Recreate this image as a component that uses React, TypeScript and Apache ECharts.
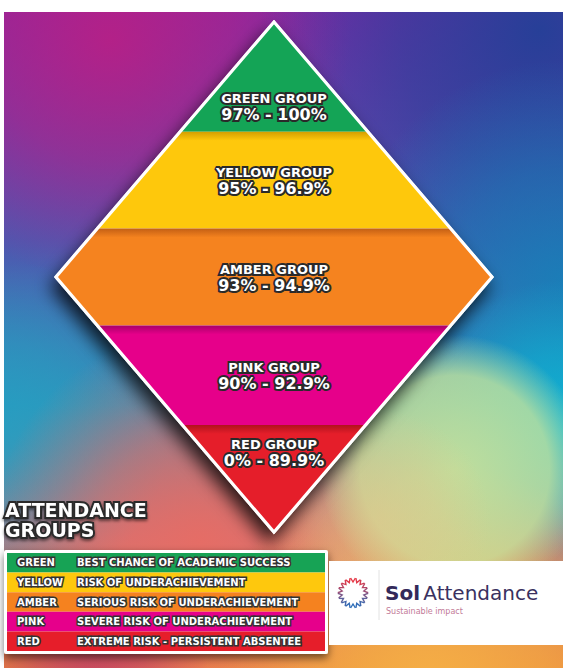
import React, { useEffect, useRef } from 'react';
import * as echarts from 'echarts';

// Pyramid bands (top to bottom); extents on a 0 (bottom tip) .. 10 (top tip) scale
const groupNames = ['GREEN GROUP', 'YELLOW GROUP', 'AMBER GROUP', 'PINK GROUP', 'RED GROUP'];
const groupRanges = ['97% - 100%', '95% - 96.9%', '93% - 94.9%', '90% - 92.9%', '0% - 89.9%'];
const bandFrom = [7.85, 5.95, 4.05, 2.1, 0];
const bandTo = [10, 7.85, 5.95, 4.05, 2.1];
const bandColors = ['#14a456', '#fec80c', '#f5831f', '#e6008a', '#e51e2a'];
const bandShades = ['#0f8a46', '#d49e00', '#c45f14', '#a8006a', '#b0121d'];

// Legend table
const legendNames = ['GREEN', 'YELLOW', 'AMBER', 'PINK', 'RED'];
const legendDescriptions = [
  'BEST CHANCE OF ACADEMIC SUCCESS',
  'RISK OF UNDERACHIEVEMENT',
  'SERIOUS RISK OF UNDERACHIEVEMENT',
  'SEVERE RISK OF UNDERACHIEVEMENT',
  'EXTREME RISK - PERSISTENT ABSENTEE',
];
const legendColors = ['#17a355', '#fec80d', '#f5821f', '#e6008b', '#e61e2a'];

const FONT = 'DejaVu Sans';

function half(y: number) {
  return 1 - Math.abs(y - 5) / 5;
}

function radial(x: number, y: number, r: number, rgb: string, a: number, flat = 0.5) {
  return {
    type: 'radial', x, y, r, global: true,
    colorStops: [
      { offset: 0, color: `rgba(${rgb},${a})` },
      { offset: flat, color: `rgba(${rgb},${a * (flat > 0.5 ? 0.85 : 0.6)})` },
      { offset: 1, color: `rgba(${rgb},0)` },
    ],
  };
}

function mix(c1: number[], c2: number[], t: number) {
  const c = c1.map((v, i) => Math.round(v + (c2[i] - v) * t));
  return `rgb(${c[0]},${c[1]},${c[2]})`;
}

export default function App() {
  const ref = useRef<HTMLDivElement>(null);
  useEffect(() => {
    const chart = echarts.init(ref.current!, null, { renderer: 'svg', width: 563, height: 668 });

    const bgShape = { x: 4, y: 12, width: 559, height: 656 };
    const overlays = [
      radial(110, 40, 240, '190,30,130', 0.85),
      radial(540, 30, 280, '30,65,150', 0.9),
      radial(563, 280, 220, '20,130,185', 0.85),
      radial(563, 430, 150, '10,185,215', 0.9),
      radial(0, 430, 170, '35,160,195', 0.85),
      radial(200, 540, 210, '232,108,100', 0.9),
      radial(430, 690, 230, '246,178,70', 0.95),
      radial(455, 470, 135, '200,228,155', 0.92, 0.7),
      radial(380, 520, 110, '225,200,140', 0.6),
      radial(90, 690, 120, '180,40,110', 0.7),
    ];
    const bgElements: any[] = [
      {
        type: 'rect', z: 0, shape: bgShape, silent: true,
        style: {
          fill: new echarts.graphic.LinearGradient(0, 0, 0, 1, [
            { offset: 0, color: '#7a2ca8' },
            { offset: 0.35, color: '#4d58b0' },
            { offset: 0.6, color: '#3590b8' },
            { offset: 0.8, color: '#c97479' },
            { offset: 1, color: '#e9863e' },
          ]),
        },
      },
      ...overlays.map((g) => ({ type: 'rect', z: 0, silent: true, shape: bgShape, style: { fill: g } })),
    ];

    // legend frame
    const frame = {
      type: 'rect', z: 1, silent: true,
      shape: { x: 4, y: 550, width: 324, height: 104, r: 2 },
      style: { fill: '#ffffff', shadowBlur: 8, shadowOffsetY: 4, shadowColor: 'rgba(0,0,0,0.55)' },
    };

    // logo panel
    const panel = {
      type: 'rect', z: 1, silent: true,
      shape: { x: 329, y: 561, width: 234, height: 84 },
      style: { fill: '#ffffff' },
    };
    const cx = 353, cy = 593, rr = 13, n = 18;
    const chevrons: any[] = [];
    for (let i = 0; i < n; i++) {
      const th = (i * 2 * Math.PI) / n;
      const t = (1 - Math.cos(th)) / 2;
      chevrons.push({
        type: 'polyline', z: 2, silent: true,
        x: cx + rr * Math.sin(th), y: cy - rr * Math.cos(th), rotation: -th,
        shape: { points: [[-2.4, -2], [0, 2], [2.4, -2]] },
        style: { stroke: mix([232, 56, 70], [45, 110, 185], t), lineWidth: 1.4, fill: null },
      });
    }
    const logo: any[] = [
      panel,
      ...chevrons,
      { type: 'line', z: 2, silent: true, shape: { x1: 379, y1: 570, x2: 379, y2: 620 }, style: { stroke: '#e2e2e2', lineWidth: 1 } },
      {
        type: 'text', z: 2, silent: true, x: 385, y: 593,
        style: {
          text: '{a|Sol} {b|Attendance}', verticalAlign: 'middle', align: 'left',
          rich: {
            a: { fontFamily: FONT, fontSize: 20, fontWeight: 'bold', fill: '#33295a' },
            b: { fontFamily: FONT, fontSize: 20, fontWeight: 'normal', fill: '#3a3160' },
          },
        },
      },
      {
        type: 'text', z: 2, silent: true, x: 386, y: 611,
        style: { text: 'Sustainable impact', fontFamily: FONT, fontSize: 8, fill: '#c27a98', verticalAlign: 'middle' },
      },
    ];

    const labelStyle = (text: string, size: number) => ({
      text, fontFamily: FONT, fontSize: size, fontWeight: 'bold', fill: '#ffffff',
      stroke: '#2a2a2a', lineWidth: 4, align: 'center', verticalAlign: 'middle',
      shadowBlur: 2, shadowOffsetY: 1.5, shadowColor: 'rgba(0,0,0,0.6)',
    });

    const option: any = {
      animation: false,
      title: {
        text: 'ATTENDANCE\nGROUPS', left: 5, top: 500, padding: 0,
        textStyle: {
          color: '#ffffff', fontFamily: FONT, fontSize: 19, fontWeight: 'bold', lineHeight: 20,
          textBorderColor: '#2b2b2b', textBorderWidth: 4,
          textShadowColor: 'rgba(0,0,0,0.5)', textShadowBlur: 3, textShadowOffsetY: 2,
        },
      },
      grid: [
        { left: 56, top: 22, width: 436, height: 510 },
        { left: 7, top: 553, width: 318, height: 98 },
      ],
      xAxis: [
        { type: 'value', gridIndex: 0, min: -1, max: 1, show: false },
        { type: 'value', gridIndex: 1, min: 0, max: 1, show: false },
      ],
      yAxis: [
        { type: 'value', gridIndex: 0, min: 0, max: 10, show: false },
        { type: 'category', gridIndex: 1, data: legendNames, inverse: true, show: false },
      ],
      graphic: { elements: [...bgElements, frame, ...logo] },
      series: [
        {
          // diamond outline + shadow (under bands)
          type: 'custom', xAxisIndex: 0, yAxisIndex: 0, z: 2, silent: true,
          data: [[0, 10]],
          renderItem: (_p: any, api: any) => {
            const lo = api.value(0), hi = api.value(1);
            const mid = (lo + hi) / 2;
            const pts = [[0, lo], [-1, mid], [0, hi], [1, mid]].map((p) => api.coord(p));
            return {
              type: 'polygon', shape: { points: pts },
              style: { fill: '#ffffff', stroke: '#ffffff', lineWidth: 3, shadowBlur: 18, shadowOffsetY: 10, shadowOffsetX: -4, shadowColor: 'rgba(0,0,0,0.8)' },
            };
          },
        },
        {
          type: 'custom', xAxisIndex: 0, yAxisIndex: 0, z: 3, silent: true,
          data: bandFrom.map((f, i) => [f, bandTo[i]]),
          renderItem: (params: any, api: any) => {
            const i = params.dataIndex;
            const lo = api.value(0), hi = api.value(1);
            const crosses = lo < 5 && hi > 5;
            const pts: number[][] = [[-half(lo), lo]];
            if (crosses) pts.push([-1, 5]);
            pts.push([-half(hi), hi], [half(hi), hi]);
            if (crosses) pts.push([1, 5]);
            pts.push([half(lo), lo]);
            const points = pts.map((p) => api.coord(p));
            const topPx = api.coord([0, hi])[1];
            const botPx = api.coord([0, lo])[1];
            const h = botPx - topPx;
            const stop = i === 0 ? 0.001 : Math.min(0.4, 9 / h);
            let ly = (lo + hi) / 2;
            if (hi >= 10) ly = lo + 0.23 * (hi - lo);
            else if (lo <= 0) ly = hi - 0.25 * (hi - lo);
            const lp = api.coord([0, ly]);
            return {
              type: 'group',
              children: [
                {
                  type: 'polygon', shape: { points },
                  style: {
                    fill: new echarts.graphic.LinearGradient(0, 0, 0, 1, [
                      { offset: 0, color: i === 0 ? bandColors[i] : bandShades[i] },
                      { offset: stop, color: bandColors[i] },
                      { offset: 1, color: bandColors[i] },
                    ]),
                  },
                },
                { type: 'text', x: lp[0], y: lp[1] - 7.5, style: labelStyle(groupNames[i], 13) },
                { type: 'text', x: lp[0], y: lp[1] + 8.5, style: labelStyle(groupRanges[i], 16) },
              ],
            };
          },
        },
        {
          // white border on top of bands
          type: 'custom', xAxisIndex: 0, yAxisIndex: 0, z: 4, silent: true,
          data: [[0, 10]],
          renderItem: (_p: any, api: any) => {
            const lo = api.value(0), hi = api.value(1);
            const mid = (lo + hi) / 2;
            const pts = [[0, lo], [-1, mid], [0, hi], [1, mid]].map((p) => api.coord(p));
            return { type: 'polygon', shape: { points: pts }, style: { fill: null, stroke: '#ffffff', lineWidth: 3, lineJoin: 'miter' } };
          },
        },
        {
          type: 'custom', xAxisIndex: 1, yAxisIndex: 1, z: 3, silent: true,
          data: legendNames.map((_n, i) => [1, i]),
          renderItem: (params: any, api: any) => {
            const i = params.dataIndex;
            const l = api.coord([0, i]);
            const r = api.coord([api.value(0), i]);
            const h = api.size([0, 1])[1];
            const ts = (text: string, x: number) => ({
              type: 'text', x, y: l[1],
              style: {
                text, fontFamily: FONT, fontSize: 10, fontWeight: 'bold', fill: '#ffffff',
                stroke: '#333333', lineWidth: 3, verticalAlign: 'middle', align: 'left',
                shadowBlur: 1, shadowOffsetY: 1, shadowColor: 'rgba(0,0,0,0.5)',
              },
            });
            return {
              type: 'group',
              children: [
                { type: 'rect', shape: { x: l[0], y: l[1] - h / 2, width: r[0] - l[0], height: h }, style: { fill: legendColors[i] } },
                ts(legendNames[i], l[0] + 10),
                ts(legendDescriptions[i], l[0] + 70),
              ],
            };
          },
        },
      ],
    };
    chart.setOption(option);
    return () => chart.dispose();
  }, []);
  return <div ref={ref} style={{ position: 'absolute', left: 0, top: 0, width: 563, height: 668 }} />;
}
